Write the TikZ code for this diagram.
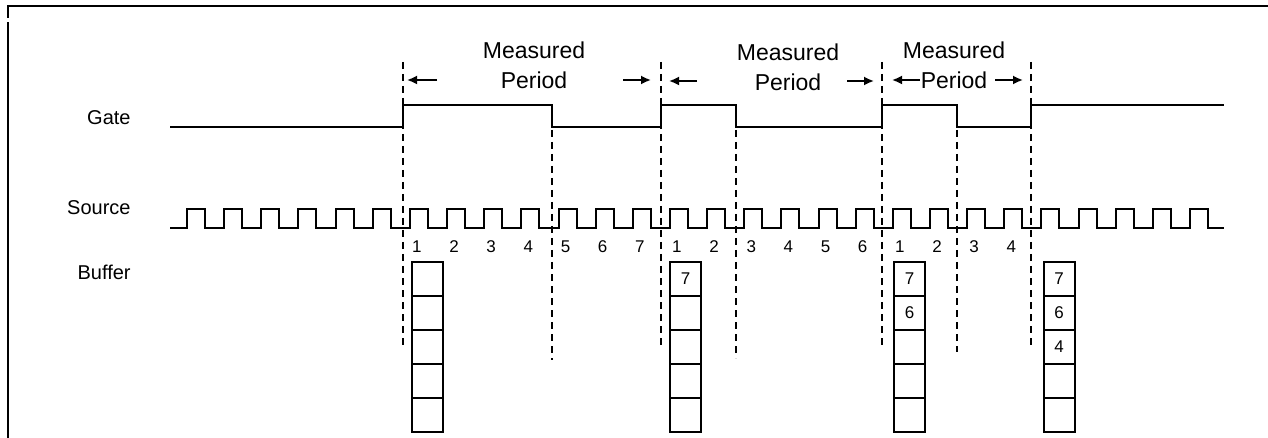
\documentclass[tikz,border=0pt]{standalone}
\usepackage{fontspec}
\setmainfont{Liberation Sans}
\usetikzlibrary{arrows.meta,positioning}
\tikzset{
  >={Latex[length=5pt,width=4.5pt]},
  sig/.style={line width=1pt},
  vline/.style={dash pattern=on 3.5pt off 2.5pt,line width=0.8pt},
  cell/.style={draw,line width=1pt,minimum width=15.5pt,minimum height=17pt,inner sep=0pt},
  lbl/.style={font=\fontsize{10}{12}\selectfont,anchor=east,inner sep=0pt},
  num/.style={font=\fontsize{8.5}{10}\selectfont,inner sep=0pt},
  ttl/.style={font=\fontsize{11.5}{15}\selectfont,align=center,inner sep=0pt},
  parr/.style={->,line width=0.9pt},
}
\begin{document}
\begin{tikzpicture}[x=0.5pt,y=-0.5pt]
\useasboundingbox (0,0) rectangle (1268,438);
% frame
\draw[line width=1.4pt] (8,438) -- (8,22) (8,18) -- (8,6) -- (1268,6);
% signal names
\node[lbl] (gate) at (131,118) {Gate};
\node[lbl] (source) at (131,208) {Source};
\node[lbl] (buffer) at (131,272) {Buffer};
% gate
\draw[sig] (170,127) -| (403,105) -| (552,127) -| (661,105) -| (736,127) -| (882,105) -| (957,127) -| (1031,105) -- (1224,105);
% source clock
\draw[sig] (170,228) \foreach \k in {0,...,27}{ -- ({187+37.15*\k},228) -- ++(0,-19) -- ++(18,0) -- ++(0,19) } -- (1224,228);
% edges of gate
\foreach \x/\a/\b in {403/62/347, 552/130/360, 661/62/347, 736/130/358, 882/62/347, 957/130/352, 1031/62/347}
  \draw[vline] (\x,\a) -- (\x,\b);
% counts
\foreach \k/\t in {6/1,7/2,8/3,9/4,10/5,11/6,12/7,13/1,14/2,15/3,16/4,17/5,18/6,19/1,20/2,21/3,22/4}
  \node[num] (n\k) at ({194+37.15*\k},247) {\t};
% measured periods
\node[ttl] (mp1) at (534,65) {Measured\\Period};
\node[ttl] (mp2) at (788,67) {Measured\\Period};
\node[ttl] (mp3) at (954,65) {Measured\\Period};
\foreach \i/\xa/\xb/\y in {1/437/407/80, 2/623/651/80, 3/697/669/81, 4/847/874/81, 5/920/892/80, 6/995/1023/80} {
  \coordinate (p\i) at (\xa,\y);
  \coordinate (q\i) at (\xb,\y);
  \draw[parr] (p\i) -- (q\i);
}
% buffers
\foreach \c/\x in {1/427.5,2/685.5,3/909.5,4/1059}
  \foreach \r in {1,...,5}
    \node[cell] (b\c\r) at (\x,{245+34*\r}) {};
\node[num] (v21) at (b21) {7};
\node[num] (v31) at (b31) {7};
\node[num] (v32) at (b32) {6};
\node[num] (v41) at (b41) {7};
\node[num] (v42) at (b42) {6};
\node[num] (v43) at (b43) {4};
\end{tikzpicture}
\end{document}
